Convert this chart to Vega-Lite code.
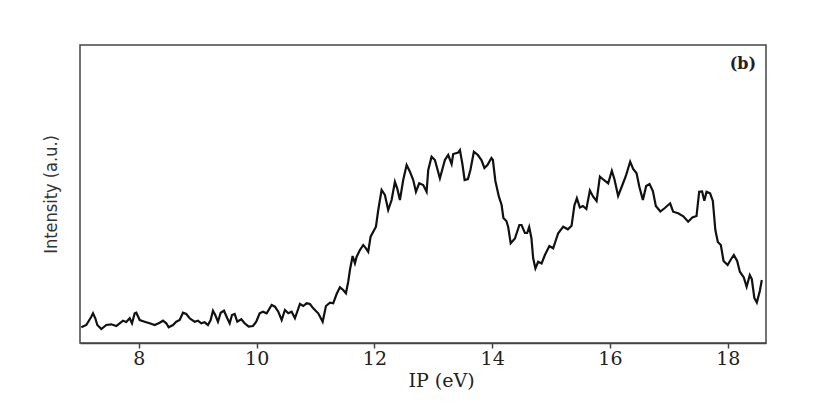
{
  "$schema": "https://vega.github.io/schema/vega-lite/v6.json",
  "width": 686,
  "height": 298,
  "autosize": "none",
  "padding": {"left": 80, "top": 45, "right": 73, "bottom": 64},
  "background": "white",
  "title": {
    "text": "(b)",
    "anchor": "end",
    "frame": "group",
    "orient": "top",
    "font": "DejaVu Serif",
    "fontSize": 16,
    "fontWeight": "bold",
    "color": "#222",
    "baseline": "alphabetic",
    "offset": 0,
    "dx": -10,
    "dy": 40
  },
  "config": {
    "view": {"stroke": "#444", "strokeWidth": 1.5},
    "axis": {"grid": false}
  },
  "data": {
    "values": [
      {"ip": 7.022, "intensity": 15.7}, {"ip": 7.107, "intensity": 18}, {"ip": 7.192, "intensity": 26.3}, {"ip": 7.221, "intensity": 29.7},
      {"ip": 7.26, "intensity": 24.7}, {"ip": 7.294, "intensity": 18}, {"ip": 7.362, "intensity": 14}, {"ip": 7.447, "intensity": 18},
      {"ip": 7.531, "intensity": 18.7}, {"ip": 7.616, "intensity": 17}, {"ip": 7.674, "intensity": 19.7}, {"ip": 7.73, "intensity": 22.3},
      {"ip": 7.786, "intensity": 21}, {"ip": 7.844, "intensity": 24.7}, {"ip": 7.883, "intensity": 19.7}, {"ip": 7.929, "intensity": 29.7},
      {"ip": 7.956, "intensity": 30.3}, {"ip": 8.014, "intensity": 23}, {"ip": 8.098, "intensity": 21.3}, {"ip": 8.183, "intensity": 19.7},
      {"ip": 8.268, "intensity": 18}, {"ip": 8.353, "intensity": 20.3}, {"ip": 8.409, "intensity": 22.3}, {"ip": 8.465, "intensity": 19.7},
      {"ip": 8.506, "intensity": 15.7}, {"ip": 8.579, "intensity": 18}, {"ip": 8.635, "intensity": 21.3}, {"ip": 8.693, "intensity": 23},
      {"ip": 8.749, "intensity": 30.3}, {"ip": 8.805, "intensity": 29}, {"ip": 8.862, "intensity": 24.7}, {"ip": 8.947, "intensity": 21.3},
      {"ip": 9.003, "intensity": 22.3}, {"ip": 9.059, "intensity": 19.7}, {"ip": 9.117, "intensity": 20.7}, {"ip": 9.173, "intensity": 18},
      {"ip": 9.219, "intensity": 23}, {"ip": 9.258, "intensity": 32.3}, {"ip": 9.297, "intensity": 28}, {"ip": 9.343, "intensity": 21.3},
      {"ip": 9.389, "intensity": 30.3}, {"ip": 9.445, "intensity": 32.3}, {"ip": 9.501, "intensity": 24.7}, {"ip": 9.542, "intensity": 19.7},
      {"ip": 9.581, "intensity": 28}, {"ip": 9.626, "intensity": 29}, {"ip": 9.671, "intensity": 21.3}, {"ip": 9.739, "intensity": 23.7},
      {"ip": 9.796, "intensity": 19.7}, {"ip": 9.864, "intensity": 16.3}, {"ip": 9.937, "intensity": 17}, {"ip": 9.993, "intensity": 21.3},
      {"ip": 10.051, "intensity": 29.7}, {"ip": 10.107, "intensity": 31.3}, {"ip": 10.17, "intensity": 29.7}, {"ip": 10.255, "intensity": 38},
      {"ip": 10.311, "intensity": 36.3}, {"ip": 10.367, "intensity": 31.3}, {"ip": 10.425, "intensity": 23}, {"ip": 10.48, "intensity": 33},
      {"ip": 10.537, "intensity": 29.7}, {"ip": 10.594, "intensity": 31.3}, {"ip": 10.65, "intensity": 24.7}, {"ip": 10.735, "intensity": 39},
      {"ip": 10.791, "intensity": 37}, {"ip": 10.849, "intensity": 39.7}, {"ip": 10.905, "intensity": 39}, {"ip": 10.961, "intensity": 34.7},
      {"ip": 11.046, "intensity": 29.7}, {"ip": 11.121, "intensity": 21.3}, {"ip": 11.177, "intensity": 37}, {"ip": 11.245, "intensity": 40.3},
      {"ip": 11.3, "intensity": 39.7}, {"ip": 11.358, "intensity": 49}, {"ip": 11.414, "intensity": 55.7}, {"ip": 11.47, "intensity": 53},
      {"ip": 11.516, "intensity": 49.7}, {"ip": 11.555, "intensity": 61.3}, {"ip": 11.584, "intensity": 73}, {"ip": 11.63, "intensity": 87},
      {"ip": 11.669, "intensity": 79.7}, {"ip": 11.698, "intensity": 86.3}, {"ip": 11.754, "intensity": 93}, {"ip": 11.81, "intensity": 98},
      {"ip": 11.856, "intensity": 94.7}, {"ip": 11.895, "intensity": 91.3}, {"ip": 11.935, "intensity": 106.3}, {"ip": 11.98, "intensity": 111.3},
      {"ip": 12.026, "intensity": 116.3}, {"ip": 12.065, "intensity": 133}, {"ip": 12.122, "intensity": 153}, {"ip": 12.178, "intensity": 148},
      {"ip": 12.234, "intensity": 133}, {"ip": 12.292, "intensity": 143}, {"ip": 12.348, "intensity": 161.3}, {"ip": 12.387, "intensity": 154.7},
      {"ip": 12.433, "intensity": 143}, {"ip": 12.489, "intensity": 163}, {"ip": 12.547, "intensity": 178}, {"ip": 12.603, "intensity": 171.3},
      {"ip": 12.659, "intensity": 163}, {"ip": 12.705, "intensity": 151.3}, {"ip": 12.761, "intensity": 159.7}, {"ip": 12.829, "intensity": 158},
      {"ip": 12.886, "intensity": 151.3}, {"ip": 12.914, "intensity": 173}, {"ip": 12.971, "intensity": 186.3}, {"ip": 13.027, "intensity": 183},
      {"ip": 13.112, "intensity": 164.7}, {"ip": 13.197, "intensity": 183}, {"ip": 13.253, "intensity": 188}, {"ip": 13.311, "intensity": 179},
      {"ip": 13.338, "intensity": 189}, {"ip": 13.423, "intensity": 190.5}, {"ip": 13.452, "intensity": 193}, {"ip": 13.494, "intensity": 179},
      {"ip": 13.532, "intensity": 163}, {"ip": 13.588, "intensity": 164}, {"ip": 13.63, "intensity": 173}, {"ip": 13.689, "intensity": 191.3},
      {"ip": 13.757, "intensity": 188}, {"ip": 13.817, "intensity": 183}, {"ip": 13.868, "intensity": 175}, {"ip": 13.919, "intensity": 178},
      {"ip": 13.987, "intensity": 185}, {"ip": 14.012, "intensity": 183}, {"ip": 14.054, "intensity": 162}, {"ip": 14.114, "intensity": 146.3},
      {"ip": 14.16, "intensity": 138}, {"ip": 14.19, "intensity": 125}, {"ip": 14.241, "intensity": 122}, {"ip": 14.272, "intensity": 116},
      {"ip": 14.314, "intensity": 99.7}, {"ip": 14.386, "intensity": 104.5}, {"ip": 14.462, "intensity": 118}, {"ip": 14.499, "intensity": 118},
      {"ip": 14.555, "intensity": 110}, {"ip": 14.594, "intensity": 110}, {"ip": 14.628, "intensity": 116}, {"ip": 14.666, "intensity": 105},
      {"ip": 14.696, "intensity": 84.7}, {"ip": 14.734, "intensity": 74.7}, {"ip": 14.781, "intensity": 81.3}, {"ip": 14.839, "intensity": 79.5},
      {"ip": 14.895, "intensity": 88}, {"ip": 14.971, "intensity": 97}, {"ip": 15.036, "intensity": 94.7}, {"ip": 15.093, "intensity": 105},
      {"ip": 15.121, "intensity": 109.7}, {"ip": 15.206, "intensity": 116.3}, {"ip": 15.285, "intensity": 113.7}, {"ip": 15.348, "intensity": 117.2},
      {"ip": 15.396, "intensity": 137.5}, {"ip": 15.438, "intensity": 144.7}, {"ip": 15.489, "intensity": 135.5}, {"ip": 15.54, "intensity": 137},
      {"ip": 15.599, "intensity": 134}, {"ip": 15.659, "intensity": 152.5}, {"ip": 15.715, "intensity": 146.3}, {"ip": 15.773, "intensity": 142},
      {"ip": 15.829, "intensity": 166.3}, {"ip": 15.896, "intensity": 163}, {"ip": 15.97, "intensity": 159.7}, {"ip": 16.032, "intensity": 172.2},
      {"ip": 16.075, "intensity": 164}, {"ip": 16.139, "intensity": 147}, {"ip": 16.211, "intensity": 158}, {"ip": 16.27, "intensity": 167},
      {"ip": 16.343, "intensity": 181.3}, {"ip": 16.394, "intensity": 174}, {"ip": 16.452, "intensity": 169.7}, {"ip": 16.499, "intensity": 156.3},
      {"ip": 16.559, "intensity": 143}, {"ip": 16.615, "intensity": 157}, {"ip": 16.672, "intensity": 159}, {"ip": 16.729, "intensity": 152},
      {"ip": 16.779, "intensity": 137}, {"ip": 16.856, "intensity": 131.5}, {"ip": 16.932, "intensity": 135}, {"ip": 17.022, "intensity": 139.7},
      {"ip": 17.073, "intensity": 131.3}, {"ip": 17.158, "intensity": 129.7}, {"ip": 17.246, "intensity": 126.7}, {"ip": 17.328, "intensity": 121.3},
      {"ip": 17.399, "intensity": 125.5}, {"ip": 17.47, "intensity": 127}, {"ip": 17.515, "intensity": 151.3}, {"ip": 17.564, "intensity": 151.5},
      {"ip": 17.603, "intensity": 142.2}, {"ip": 17.64, "intensity": 151.3}, {"ip": 17.701, "intensity": 149.7}, {"ip": 17.747, "intensity": 142},
      {"ip": 17.79, "intensity": 113}, {"ip": 17.832, "intensity": 101}, {"ip": 17.883, "intensity": 98}, {"ip": 17.929, "intensity": 82},
      {"ip": 17.998, "intensity": 78}, {"ip": 18.053, "intensity": 83.5}, {"ip": 18.104, "intensity": 88}, {"ip": 18.16, "intensity": 82},
      {"ip": 18.206, "intensity": 71.3}, {"ip": 18.273, "intensity": 65.5}, {"ip": 18.321, "intensity": 56.3}, {"ip": 18.375, "intensity": 68},
      {"ip": 18.409, "intensity": 64}, {"ip": 18.452, "intensity": 45}, {"ip": 18.494, "intensity": 40.5}, {"ip": 18.545, "intensity": 52},
      {"ip": 18.579, "intensity": 63}
    ]
  },
  "mark": {"type": "line", "color": "#111", "strokeWidth": 2.2, "interpolate": "linear"},
  "encoding": {
    "x": {
      "field": "ip",
      "type": "quantitative",
      "scale": {"domain": [7, 18.65], "nice": false, "zero": false},
      "axis": {
        "title": "IP (eV)",
        "values": [8, 10, 12, 14, 16, 18],
        "format": "d",
        "domainColor": "#444",
        "domainWidth": 1.5,
        "tickColor": "#444",
        "tickWidth": 1.5,
        "tickSize": 5,
        "labelPadding": 1,
        "labelFont": "DejaVu Serif",
        "labelFontSize": 19,
        "labelColor": "#222",
        "titleFont": "DejaVu Serif",
        "titleFontSize": 19,
        "titleFontWeight": "normal",
        "titleColor": "#222",
        "titleX": 361,
        "titleY": 43,
        "titleBaseline": "alphabetic",
        "titleAnchor": "middle"
      }
    },
    "y": {
      "field": "intensity",
      "type": "quantitative",
      "scale": {"domain": [0, 298], "nice": false},
      "axis": {
        "title": "Intensity (a.u.)",
        "domain": false,
        "ticks": false,
        "labels": false,
        "titlePadding": 20,
        "titleFont": "Liberation Sans Narrow, DejaVu Sans Condensed, Roboto",
        "titleFontSize": 18,
        "titleFontWeight": "normal",
        "titleColor": "#333"
      }
    }
  }
}
